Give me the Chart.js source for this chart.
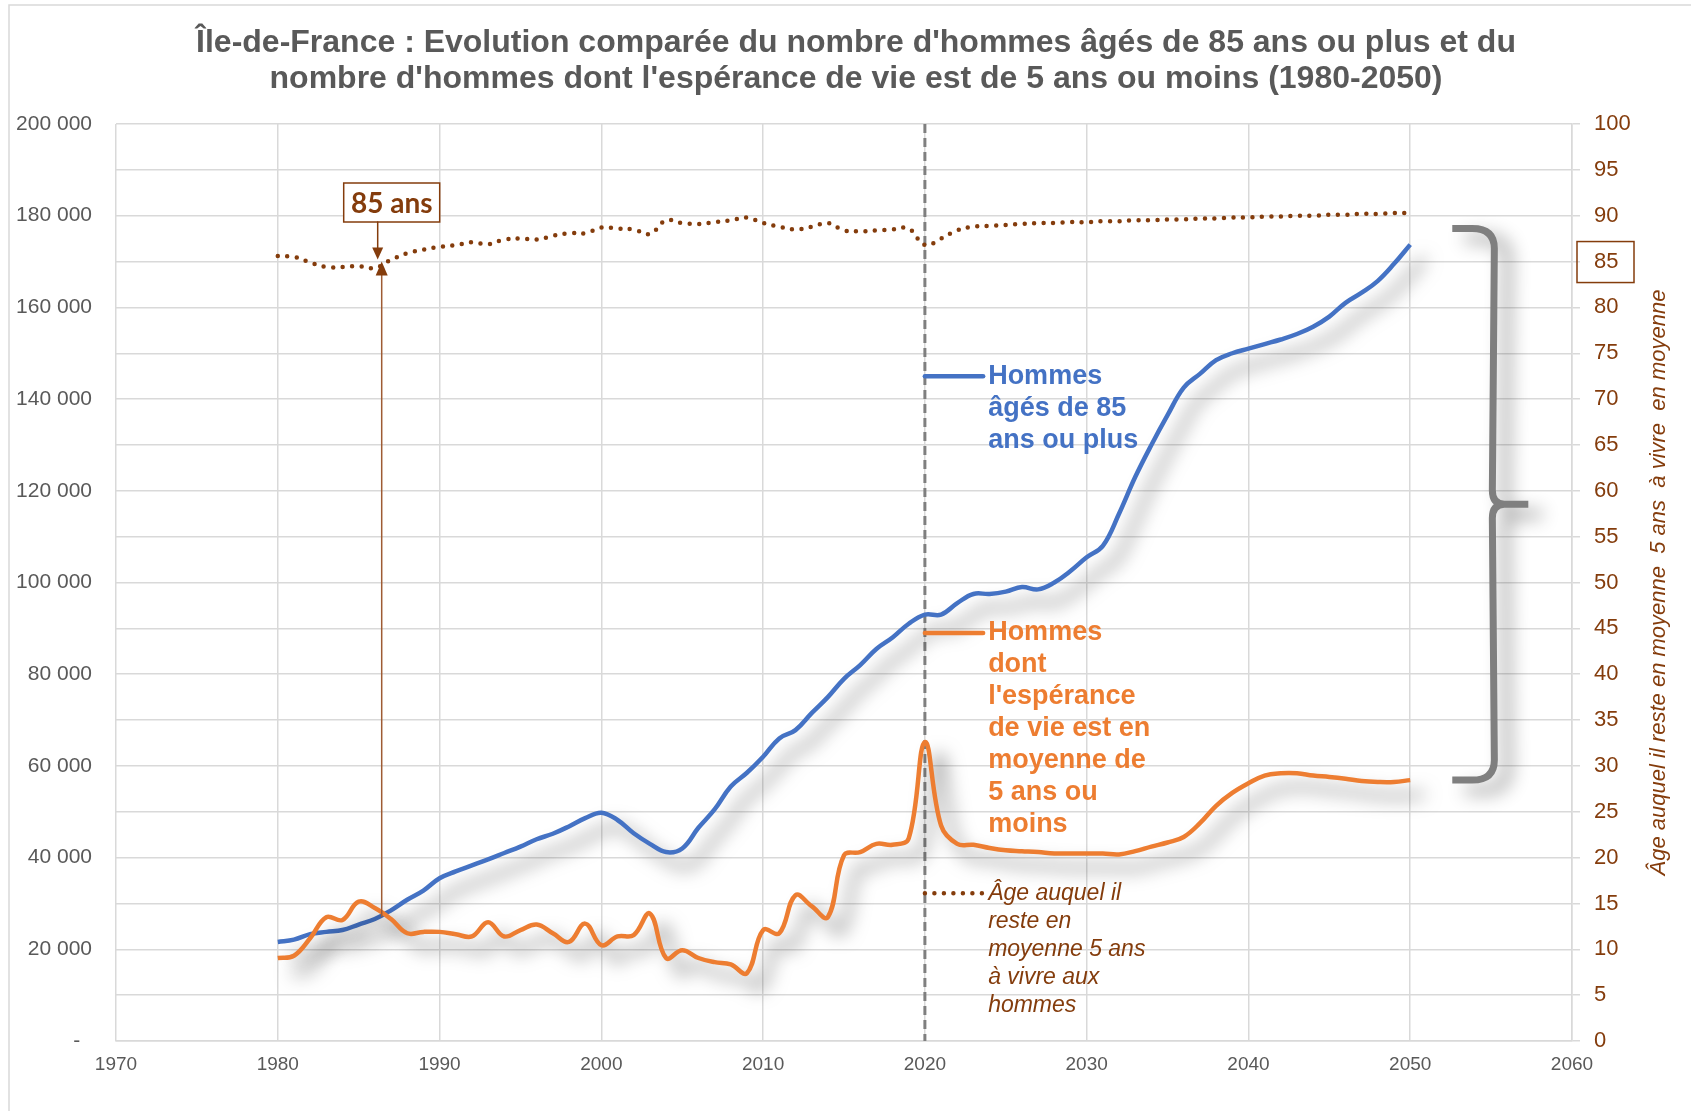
<!DOCTYPE html>
<html>
<head>
<meta charset="utf-8">
<script src="https://cdn.jsdelivr.net/npm/chart.js@4.4.1/dist/chart.umd.min.js"></script>
<style>
  body { margin: 0; background: #fff; }
  canvas { display: block; }
</style>
</head>
<body>
<canvas id="chart" width="1691" height="1111"></canvas>
<script>
// years 1980-2050
const years = [1980, 1981, 1982, 1983, 1984, 1985, 1986, 1987, 1988, 1989,
    1990, 1991, 1992, 1993, 1994, 1995, 1996, 1997, 1998, 1999,
    2000, 2001, 2002, 2003, 2004, 2005, 2006, 2007, 2008, 2009,
    2010, 2011, 2012, 2013, 2014, 2015, 2016, 2017, 2018, 2019,
    2020, 2021, 2022, 2023, 2024, 2025, 2026, 2027, 2028, 2029,
    2030, 2031, 2032, 2033, 2034, 2035, 2036, 2037, 2038, 2039,
    2040, 2041, 2042, 2043, 2044, 2045, 2046, 2047, 2048, 2049, 2050]

// hommes âgés de 85 ans ou plus
const hommes85 = [21600, 22100, 23300, 23800, 24200, 25400, 26600, 28500, 30800, 32800,
    35500, 37000, 38300, 39600, 41000, 42400, 44000, 45200, 46800, 48600,
    49800, 48200, 45300, 43000, 41200, 42000, 46500, 50500, 55500, 58500,
    62000, 66000, 67800, 71500, 75000, 79000, 82000, 85500, 88000, 91000,
    93000, 93000, 95500, 97500, 97500, 98000, 99000, 98500, 100000, 102500,
    105500, 108000, 115000, 123000, 130000, 136500, 142500, 145500, 148500, 150000,
    151000, 152000, 153000, 154200, 155800, 158000, 161000, 163200, 165800, 169500, 173700]

// hommes dont l'espérance de vie est de 5 ans ou moins
const hommes5ans = [18100, 18600, 22400, 27000, 26400, 30400, 29000, 26600, 23500, 23800,
    23800, 23300, 22800, 25900, 22800, 24200, 25400, 23500, 21600, 25600,
    20900, 22800, 23100, 27800, 18100, 19800, 18100, 17200, 16700, 14800,
    24200, 23500, 31800, 29400, 27000, 40500, 41200, 43000, 42800, 44200,
    65200, 47000, 43000, 42800, 42100, 41600, 41400, 41200, 40900, 40900,
    40900, 40900, 40700, 41400, 42400, 43300, 44500, 47500, 51300, 54100,
    56200, 57900, 58400, 58400, 57900, 57600, 57200, 56700, 56500, 56500, 56900]

// âge auquel il reste en moyenne 5 ans à vivre
const ageSeuil = [85.6, 85.5, 84.9, 84.4, 84.4, 84.5, 84.3, 85.2, 85.9, 86.3,
    86.6, 86.8, 87.1, 86.9, 87.4, 87.5, 87.4, 87.8, 88.1, 88.1,
    88.7, 88.6, 88.5, 88.0, 89.5, 89.2, 89.1, 89.3, 89.5, 89.8,
    89.2, 88.8, 88.5, 88.8, 89.2, 88.4, 88.3, 88.4, 88.5, 88.6,
    86.8, 87.5, 88.4, 88.8, 88.9, 89.0, 89.1, 89.2, 89.2, 89.3,
    89.3, 89.4, 89.4, 89.5, 89.5, 89.6, 89.6, 89.7, 89.7, 89.8,
    89.8, 89.9, 89.9, 90.0, 90.0, 90.1, 90.1, 90.2, 90.2, 90.3, 90.3]

const titleLines = [
    "Île-de-France : Evolution comparée du nombre d'hommes âgés de 85 ans ou plus et du",
    "nombre d'hommes dont l'espérance de vie est de 5 ans ou moins (1980-2050)"
]
const labelBlue = ['Hommes', 'âgés de 85', 'ans ou plus']
const labelOrange = ['Hommes', 'dont', "l'espérance", 'de vie est en', 'moyenne de', '5 ans ou', 'moins']
const labelBrown = ['Âge auquel il', 'reste en', 'moyenne 5 ans', 'à vivre aux', 'hommes']
const axisTitleRight = 'Âge auquel il reste en moyenne  5 ans  à vivre  en moyenne'

const BLUE = '#4472C4'
const ORANGE = '#ED7D31'
const BROWN = '#843C0C'
const GREY = '#595959'
const GRID = '#D9D9D9'
const FONT = "'Liberation Sans', Arial, sans-serif"

const annotYear = 1986.3
const markYear = 2020

function pts(values) {
    return years.map((y, i) => ({ x: y, y: values[i] }))
}

function interp(values, x) {
    for (let i = 0; i < years.length - 1; i++) {
        if (x >= years[i] && x <= years[i + 1]) {
            let t = (x - years[i]) / (years[i + 1] - years[i])
            return values[i] + t * (values[i + 1] - values[i])
        }
    }
    return values[0]
}

function fmtThousands(v) {
    if (v === 0) return '-  '
    return String(v).replace(/\B(?=(\d{3})+(?!\d))/g, ' ')
}

function arrowHead(ctx, x, y, dir, w, h) {
    // dir 1 = pointing down, -1 = pointing up
    ctx.beginPath()
    ctx.moveTo(x, y)
    ctx.lineTo(x - w / 2, y - dir * h)
    ctx.lineTo(x + w / 2, y - dir * h)
    ctx.closePath()
    ctx.fill()
}

const overlay = {
    id: 'overlay',
    beforeDatasetsDraw(chart) {
        const { ctx, chartArea, scales } = chart
        const x = scales.x.getPixelForValue(markYear)
        ctx.save()
        ctx.strokeStyle = '#7F7F7F'
        ctx.lineWidth = 3
        ctx.setLineDash([9, 5])
        ctx.beginPath()
        ctx.moveTo(x, chartArea.top)
        ctx.lineTo(x, chartArea.bottom)
        ctx.stroke()
        ctx.restore()
    },
    beforeDatasetDraw(chart, args) {
        const ctx = chart.ctx
        ctx.save()
        if (args.index < 2) {
            ctx.shadowColor = 'rgba(0,0,0,0.55)'
            ctx.shadowBlur = 18
            ctx.shadowOffsetX = 14
            ctx.shadowOffsetY = 14
        }
    },
    afterDatasetDraw(chart) {
        chart.ctx.restore()
    },
    afterDraw(chart) {
        const { ctx, chartArea, scales } = chart
        const xs = scales.x, ys = scales.y, y2 = scales.y2

        // outer frame
        ctx.save()
        ctx.strokeStyle = GRID
        ctx.lineWidth = 1.5
        ctx.beginPath()
        ctx.moveTo(9, 1111)
        ctx.lineTo(9, 5)
        ctx.lineTo(1691, 5)
        ctx.stroke()

        // title
        ctx.fillStyle = GREY
        ctx.font = 'bold 32px ' + FONT
        ctx.textAlign = 'center'
        ctx.textBaseline = 'middle'
        ctx.fillText(titleLines[0], 856, 43)
        ctx.fillText(titleLines[1], 856, 79)

        // inline legend
        const lx0 = xs.getPixelForValue(markYear)
        const lx1 = xs.getPixelForValue(2023.6)
        const tx = lx1 + 5
        ctx.textAlign = 'left'
        ctx.lineCap = 'round'

        let yb = ys.getPixelForValue(145000)
        ctx.strokeStyle = BLUE
        ctx.lineWidth = 4.5
        ctx.beginPath(); ctx.moveTo(lx0, yb); ctx.lineTo(lx1, yb); ctx.stroke()
        ctx.fillStyle = BLUE
        ctx.font = 'bold 27px ' + FONT
        labelBlue.forEach((s, i) => ctx.fillText(s, tx, yb + i * 32))

        let yo = ys.getPixelForValue(89000)
        ctx.strokeStyle = ORANGE
        ctx.beginPath(); ctx.moveTo(lx0, yo); ctx.lineTo(lx1, yo); ctx.stroke()
        ctx.fillStyle = ORANGE
        labelOrange.forEach((s, i) => ctx.fillText(s, tx, yo + i * 32))

        let yd = y2.getPixelForValue(16.1)
        ctx.strokeStyle = BROWN
        ctx.setLineDash([0, 9.5])
        ctx.beginPath(); ctx.moveTo(lx0, yd); ctx.lineTo(lx1, yd); ctx.stroke()
        ctx.setLineDash([])
        ctx.fillStyle = BROWN
        ctx.font = 'italic 23px ' + FONT
        labelBrown.forEach((s, i) => ctx.fillText(s, tx, yd + i * 28))

        // "85 ans" annotation
        const ax = xs.getPixelForValue(annotYear)
        const ageY = y2.getPixelForValue(interp(ageSeuil, annotYear))
        const blueY = ys.getPixelForValue(interp(hommes85, annotYear))
        const boxL = ax - 36, boxT = 183, boxW = 96, boxH = 39
        ctx.fillStyle = '#fff'
        ctx.fillRect(boxL, boxT, boxW, boxH)
        ctx.strokeStyle = BROWN
        ctx.lineWidth = 1.5
        ctx.strokeRect(boxL, boxT, boxW, boxH)
        ctx.fillStyle = BROWN
        ctx.font = "bold 28px Lato, 'Open Sans', sans-serif"
        ctx.textAlign = 'center'
        ctx.fillText('85 ans', boxL + boxW / 2, boxT + boxH / 2 + 1)
        ctx.beginPath(); ctx.moveTo(ax - 2, boxT + boxH); ctx.lineTo(ax - 2, ageY - 14); ctx.stroke()
        arrowHead(ctx, ax - 2, ageY - 6, 1, 11, 12)

        ctx.strokeStyle = '#9E5B33'
        ctx.lineWidth = 1.5
        ctx.beginPath(); ctx.moveTo(ax + 2, ageY + 8); ctx.lineTo(ax + 2, blueY); ctx.stroke()
        ctx.fillStyle = BROWN
        arrowHead(ctx, ax + 2, ageY - 4, -1, 12, 14)

        // "85" highlight on right axis
        const y85 = y2.getPixelForValue(85)
        ctx.strokeStyle = BROWN
        ctx.lineWidth = 1.5
        ctx.strokeRect(chartArea.right + 5, y85 - 20, 57, 41)

        // curly brace between the two 2050 values
        const bTop = ys.getPixelForValue(hommes85[hommes85.length - 1] + 3500)
        const bBot = ys.getPixelForValue(hommes5ans[hommes5ans.length - 1])
        const bMid = (bTop + bBot) / 2
        const xL = xs.getPixelForValue(2052.6)
        const xV = xs.getPixelForValue(2055.2)
        const xT = xs.getPixelForValue(2057.3)
        ctx.save()
        ctx.shadowColor = 'rgba(0,0,0,0.45)'
        ctx.shadowBlur = 18
        ctx.shadowOffsetX = 13
        ctx.shadowOffsetY = 10
        ctx.strokeStyle = '#7F7F7F'
        ctx.lineWidth = 7
        ctx.lineCap = 'butt'
        ctx.lineJoin = 'round'
        ctx.beginPath()
        ctx.moveTo(xL, bTop)
        ctx.lineTo(xV - 22, bTop)
        ctx.quadraticCurveTo(xV, bTop, xV, bTop + 20)
        ctx.lineTo(xV - 2, bMid - 14)
        ctx.quadraticCurveTo(xV - 2, bMid, xV + 10, bMid)
        ctx.lineTo(xT, bMid)
        ctx.moveTo(xV + 10, bMid)
        ctx.quadraticCurveTo(xV - 2, bMid, xV - 2, bMid + 14)
        ctx.lineTo(xV, bBot - 20)
        ctx.quadraticCurveTo(xV, bBot, xV - 22, bBot)
        ctx.lineTo(xL, bBot)
        ctx.stroke()
        ctx.restore()

        // right axis title, reading bottom to top
        ctx.save()
        ctx.translate(1659, (chartArea.top + chartArea.bottom) / 2)
        ctx.rotate(-Math.PI / 2)
        ctx.fillStyle = BROWN
        ctx.font = 'italic 22px ' + FONT
        ctx.textAlign = 'center'
        ctx.textBaseline = 'middle'
        ctx.fillText(axisTitleRight, 0, 0)
        ctx.restore()

        ctx.restore()
    }
}

const ctx = document.getElementById('chart').getContext('2d')

new Chart(ctx, {
    type: 'line',
    data: {
        datasets: [
            {
                label: "Hommes dont l'espérance de vie est en moyenne de 5 ans ou moins",
                data: pts(hommes5ans),
                borderColor: ORANGE,
                borderWidth: 4.5,
                tension: 0.4,
                pointRadius: 0,
                yAxisID: 'y'
            },
            {
                label: 'Hommes âgés de 85 ans ou plus',
                data: pts(hommes85),
                borderColor: BLUE,
                borderWidth: 4.5,
                tension: 0.4,
                pointRadius: 0,
                yAxisID: 'y'
            },
            {
                label: 'Âge auquel il reste en moyenne 5 ans à vivre aux hommes',
                data: pts(ageSeuil),
                borderColor: BROWN,
                borderWidth: 4.5,
                borderDash: [0, 9.5],
                borderCapStyle: 'round',
                tension: 0.4,
                pointRadius: 0,
                yAxisID: 'y2'
            }
        ]
    },
    options: {
        responsive: false,
        animation: false,
        devicePixelRatio: 1,
        layout: { padding: { top: 124, left: 0, right: 0, bottom: 0 } },
        plugins: {
            legend: { display: false },
            tooltip: { enabled: false },
            title: { display: false }
        },
        scales: {
            x: {
                type: 'linear',
                min: 1970,
                max: 2060,
                ticks: {
                    stepSize: 10,
                    color: GREY,
                    font: { family: FONT, size: 19 },
                    padding: 12,
                    callback: v => String(v)
                },
                grid: { color: GRID, lineWidth: 1.5, drawTicks: false },
                border: { color: GRID, width: 1.5 },
                afterFit: scale => { scale.height = 70 }
            },
            y: {
                position: 'left',
                min: 0,
                max: 200000,
                ticks: {
                    stepSize: 20000,
                    color: GREY,
                    font: { family: FONT, size: 21 },
                    padding: 24,
                    callback: v => fmtThousands(v)
                },
                grid: { display: false, drawTicks: false },
                border: { display: false },
                afterFit: scale => { scale.width = 116 }
            },
            y2: {
                position: 'right',
                min: 0,
                max: 100,
                ticks: {
                    stepSize: 5,
                    color: BROWN,
                    font: { family: FONT, size: 22 },
                    padding: 14
                },
                grid: { color: GRID, lineWidth: 1.5, drawTicks: true, tickLength: 8 },
                border: { color: GRID, width: 1.5 },
                afterFit: scale => { scale.width = 119 }
            }
        }
    },
    plugins: [overlay]
})
</script>
</body>
</html>
